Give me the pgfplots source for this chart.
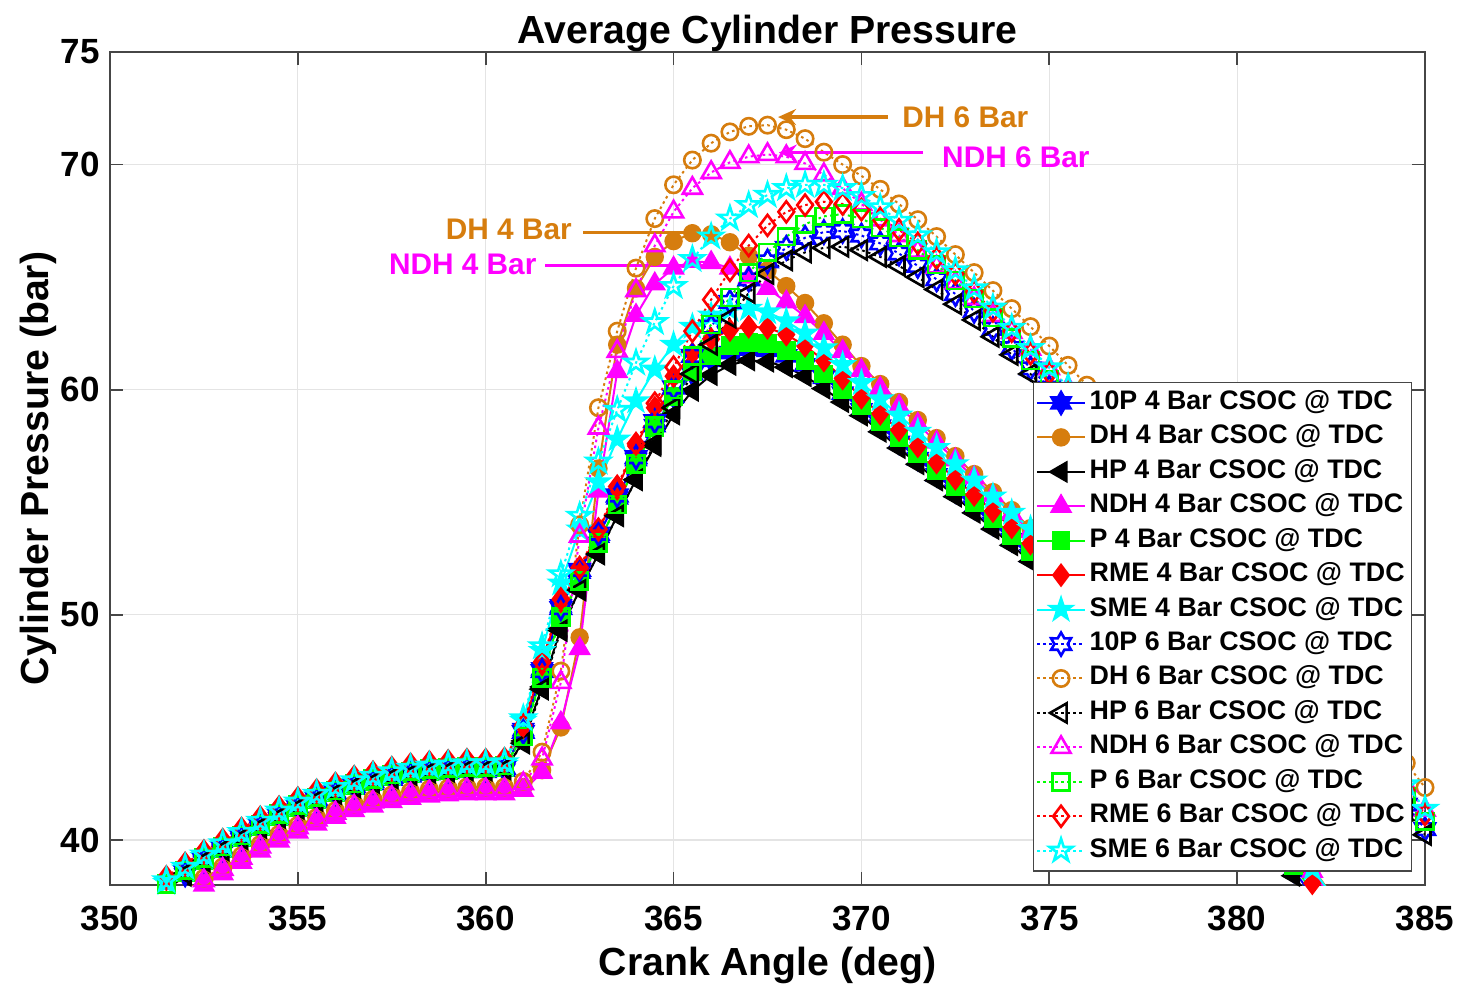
\documentclass[border=0pt]{standalone}
\usepackage{fontspec}
\setmainfont{Liberation Sans}
\usepackage{pgfplots}
\pgfplotsset{compat=1.18}
\usepackage{pgfplotstable}
\usetikzlibrary{arrows.meta,plotmarks}

\definecolor{mOrange}{RGB}{214,125,14}
\definecolor{mBlue}{RGB}{0,0,255}
\definecolor{mRed}{RGB}{255,0,0}
\definecolor{mGreen}{RGB}{0,255,0}
\definecolor{mCyan}{RGB}{0,255,255}
\definecolor{mMagenta}{RGB}{255,0,255}
\definecolor{boxgray}{RGB}{70,70,70}
\definecolor{gridgray}{RGB}{228,228,228}

% six- and five-pointed star marks (filled and outline variants)
\def\hexapath{%
  \pgfpathmoveto{\pgfpointpolar{90}{\pgfplotmarksize}}%
  \pgfpathlineto{\pgfpointpolar{120}{0.577\pgfplotmarksize}}%
  \pgfpathlineto{\pgfpointpolar{150}{\pgfplotmarksize}}%
  \pgfpathlineto{\pgfpointpolar{180}{0.577\pgfplotmarksize}}%
  \pgfpathlineto{\pgfpointpolar{210}{\pgfplotmarksize}}%
  \pgfpathlineto{\pgfpointpolar{240}{0.577\pgfplotmarksize}}%
  \pgfpathlineto{\pgfpointpolar{270}{\pgfplotmarksize}}%
  \pgfpathlineto{\pgfpointpolar{300}{0.577\pgfplotmarksize}}%
  \pgfpathlineto{\pgfpointpolar{330}{\pgfplotmarksize}}%
  \pgfpathlineto{\pgfpointpolar{0}{0.577\pgfplotmarksize}}%
  \pgfpathlineto{\pgfpointpolar{30}{\pgfplotmarksize}}%
  \pgfpathlineto{\pgfpointpolar{60}{0.577\pgfplotmarksize}}%
  \pgfpathclose}
\def\pentapath{%
  \pgfpathmoveto{\pgfpointpolar{90}{\pgfplotmarksize}}%
  \pgfpathlineto{\pgfpointpolar{126}{0.382\pgfplotmarksize}}%
  \pgfpathlineto{\pgfpointpolar{162}{\pgfplotmarksize}}%
  \pgfpathlineto{\pgfpointpolar{198}{0.382\pgfplotmarksize}}%
  \pgfpathlineto{\pgfpointpolar{234}{\pgfplotmarksize}}%
  \pgfpathlineto{\pgfpointpolar{270}{0.382\pgfplotmarksize}}%
  \pgfpathlineto{\pgfpointpolar{306}{\pgfplotmarksize}}%
  \pgfpathlineto{\pgfpointpolar{342}{0.382\pgfplotmarksize}}%
  \pgfpathlineto{\pgfpointpolar{18}{\pgfplotmarksize}}%
  \pgfpathlineto{\pgfpointpolar{54}{0.382\pgfplotmarksize}}%
  \pgfpathclose}
\pgfdeclareplotmark{hexagram*}{\hexapath\pgfusepathqfillstroke}
\pgfdeclareplotmark{hexagram}{\hexapath\pgfusepathqstroke}
\pgfdeclareplotmark{pentagram*}{\pentapath\pgfusepathqfillstroke}
\pgfdeclareplotmark{pentagram}{\pentapath\pgfusepathqstroke}

\pgfplotsset{
  s4/.style={solid, line width=1pt},
  s6/.style={line width=1pt, dash pattern=on 1.3pt off 1.7pt},
}

% Crank angle (deg) and cylinder pressure (bar)
% a=10P4 b=DH4 c=HP4 d=NDH4 e=P4 f=RME4 g=SME4 h=10P6 i=DH6 j=HP6 k=NDH6 l=P6 m=RME6 n=SME6
\pgfplotstableread{
x a b c d e f g h i j k l m n
351.5 37.85 37.00 37.80 36.85 37.95 38.25 38.10 37.95 37.15 37.90 37.05 38.05 38.35 38.20
352.0 38.45 37.60 38.40 37.45 38.55 38.85 38.70 38.55 37.75 38.50 37.65 38.65 38.95 38.80
352.5 39.00 38.15 38.95 38.00 39.10 39.40 39.25 39.10 38.30 39.05 38.20 39.20 39.50 39.35
353.0 39.50 38.65 39.45 38.50 39.60 39.90 39.75 39.60 38.80 39.55 38.70 39.70 40.00 39.85
353.5 40.00 39.15 39.95 39.00 40.10 40.40 40.25 40.10 39.30 40.05 39.20 40.20 40.50 40.35
354.0 40.50 39.65 40.45 39.50 40.60 40.90 40.75 40.60 39.80 40.55 39.70 40.70 41.00 40.85
354.5 40.95 40.10 40.90 39.95 41.05 41.35 41.20 41.05 40.25 41.00 40.15 41.15 41.45 41.30
355.0 41.35 40.50 41.30 40.35 41.45 41.75 41.60 41.45 40.65 41.40 40.55 41.55 41.85 41.70
355.5 41.70 40.85 41.65 40.70 41.80 42.10 41.95 41.80 41.00 41.75 40.90 41.90 42.20 42.05
356.0 42.00 41.15 41.95 41.00 42.10 42.40 42.25 42.10 41.30 42.05 41.20 42.20 42.50 42.35
356.5 42.30 41.45 42.25 41.30 42.40 42.70 42.55 42.40 41.60 42.35 41.50 42.50 42.80 42.65
357.0 42.50 41.65 42.45 41.50 42.60 42.90 42.75 42.60 41.80 42.55 41.70 42.70 43.00 42.85
357.5 42.70 41.85 42.65 41.70 42.80 43.10 42.95 42.80 42.00 42.75 41.90 42.90 43.20 43.05
358.0 42.85 42.00 42.80 41.85 42.95 43.25 43.10 42.95 42.15 42.90 42.05 43.05 43.35 43.20
358.5 42.95 42.10 42.90 41.95 43.05 43.35 43.20 43.05 42.25 43.00 42.15 43.15 43.45 43.30
359.0 43.00 42.15 42.95 42.00 43.10 43.40 43.25 43.10 42.30 43.05 42.20 43.20 43.50 43.35
359.5 43.05 42.20 43.00 42.05 43.15 43.45 43.30 43.15 42.35 43.10 42.25 43.25 43.55 43.40
360.0 43.05 42.20 43.00 42.05 43.15 43.45 43.30 43.15 42.35 43.10 42.25 43.25 43.55 43.40
360.5 43.10 42.20 43.05 42.05 43.20 43.50 43.35 43.20 42.35 43.15 42.25 43.30 43.60 43.45
361.0 44.90 42.35 44.40 42.20 44.70 45.00 45.30 44.80 42.60 44.30 42.50 44.60 45.10 45.40
361.5 47.60 43.10 46.80 43.00 47.30 47.80 48.40 47.50 43.90 46.70 43.60 47.20 47.90 48.60
362.0 50.40 45.00 49.40 45.20 50.00 50.60 51.40 50.30 47.50 49.30 47.00 49.90 50.70 51.80
362.5 51.90 49.00 51.10 48.50 51.50 52.00 53.80 52.00 54.00 51.10 53.50 51.50 52.10 54.40
363.0 53.50 56.50 52.70 55.50 53.20 53.70 55.90 53.60 59.20 52.70 58.30 53.20 53.80 56.80
363.5 55.20 62.00 54.40 60.80 54.90 55.60 57.80 55.30 62.60 54.40 61.70 54.90 55.70 59.10
364.0 56.90 64.50 56.00 63.30 56.70 57.50 59.50 57.00 65.40 56.00 64.40 56.70 57.60 61.20
364.5 58.40 65.90 57.50 64.70 58.30 59.20 60.90 58.60 67.60 57.60 66.40 58.40 59.40 63.00
365.0 59.70 66.60 58.90 65.40 59.70 60.60 62.00 60.10 69.10 59.20 67.90 60.00 61.00 64.60
365.5 60.70 66.95 59.95 65.70 60.80 61.60 62.80 61.50 70.20 60.70 68.95 61.50 62.60 65.80
366.0 61.30 66.90 60.65 65.65 61.50 62.25 63.30 62.80 70.95 62.00 69.65 62.90 64.00 66.80
366.5 61.65 66.55 61.10 65.40 61.95 62.65 63.55 63.90 71.45 63.20 70.10 64.10 65.30 67.60
367.0 61.80 65.95 61.30 65.00 62.10 62.80 63.60 64.90 71.70 64.30 70.35 65.20 66.40 68.20
367.5 61.75 65.30 61.25 64.50 62.05 62.75 63.45 65.70 71.75 65.15 70.45 66.10 67.30 68.65
368.0 61.50 64.60 61.00 63.90 61.75 62.45 63.05 66.30 71.55 65.75 70.35 66.80 67.90 68.95
368.5 61.10 63.85 60.60 63.25 61.30 61.95 62.50 66.75 71.15 66.10 70.05 67.35 68.20 69.10
369.0 60.55 62.95 60.05 62.50 60.70 61.30 61.85 67.00 70.55 66.30 69.55 67.70 68.35 69.10
369.5 59.85 62.00 59.45 61.70 60.00 60.50 61.10 67.05 70.00 66.35 68.95 67.80 68.25 68.95
370.0 59.10 61.05 58.85 60.85 59.30 59.65 60.30 66.85 69.50 66.20 68.25 67.60 68.00 68.60
370.5 58.38 60.25 58.13 60.06 58.58 58.93 59.58 66.50 68.90 65.90 67.55 67.20 67.60 68.10
371.0 57.66 59.45 57.41 59.26 57.86 58.21 58.86 66.05 68.25 65.50 66.85 66.75 67.10 67.50
371.5 56.94 58.65 56.69 58.47 57.14 57.49 58.14 65.50 67.55 65.00 66.15 66.20 66.50 66.85
372.0 56.22 57.85 55.97 57.67 56.42 56.77 57.42 64.90 66.80 64.45 65.45 65.55 65.85 66.10
372.5 55.50 57.05 55.25 56.88 55.70 56.05 56.70 64.25 66.00 63.80 64.75 64.85 65.15 65.30
373.0 54.78 56.25 54.53 56.09 54.98 55.33 55.98 63.50 65.20 63.10 64.05 64.05 64.35 64.50
373.5 54.06 55.45 53.81 55.29 54.26 54.61 55.26 62.70 64.40 62.35 63.30 63.20 63.50 63.65
374.0 53.34 54.65 53.09 54.50 53.54 53.89 54.54 61.85 63.60 61.55 62.55 62.30 62.60 62.75
374.5 52.62 53.85 52.37 53.70 52.82 53.17 53.82 60.95 62.80 60.70 61.80 61.30 61.60 61.85
375.0 51.74 52.97 51.49 52.82 51.94 52.29 52.94 60.09 61.94 59.84 60.94 60.44 60.74 60.99
375.5 50.84 52.07 50.59 51.92 51.04 51.39 52.04 59.23 61.08 58.98 60.08 59.58 59.88 60.13
376.0 49.92 51.15 49.67 51.00 50.12 50.47 51.12 58.35 60.20 58.10 59.20 58.70 59.00 59.25
376.5 48.98 50.21 48.73 50.06 49.18 49.53 50.18 57.46 59.31 57.21 58.31 57.81 58.11 58.36
377.0 48.03 49.26 47.78 49.11 48.23 48.58 49.23 56.55 58.40 56.30 57.40 56.90 57.20 57.45
377.5 47.06 48.29 46.81 48.14 47.26 47.61 48.26 55.64 57.49 55.39 56.49 55.99 56.29 56.54
378.0 46.06 47.30 45.82 47.15 46.27 46.62 47.27 54.71 56.56 54.46 55.56 55.06 55.36 55.61
378.5 45.06 46.29 44.81 46.14 45.26 45.61 46.26 53.77 55.62 53.52 54.62 54.12 54.42 54.67
379.0 44.04 45.27 43.79 45.12 44.24 44.59 45.24 52.82 54.67 52.57 53.67 53.17 53.47 53.72
379.5 43.00 44.23 42.75 44.08 43.20 43.55 44.20 51.86 53.71 51.61 52.71 52.21 52.51 52.76
380.0 41.94 43.17 41.69 43.02 42.14 42.49 43.14 50.88 52.73 50.63 51.73 51.23 51.53 51.78
380.5 40.86 42.09 40.61 41.94 41.06 41.41 42.06 49.89 51.74 49.64 50.74 50.24 50.54 50.79
381.0 39.77 41.00 39.52 40.85 39.97 40.32 40.97 48.89 50.74 48.64 49.74 49.24 49.54 49.79
381.5 38.66 39.89 38.41 39.74 38.86 39.21 39.86 47.88 49.73 47.63 48.73 48.23 48.53 48.78
382.0 37.53 38.76 37.28 38.61 37.73 38.08 38.73 46.86 48.71 46.61 47.71 47.21 47.51 47.76
382.5 36.38 37.61 36.13 37.46 36.58 36.93 37.58 45.83 47.68 45.58 46.68 46.18 46.48 46.73
383.0 nan nan nan nan nan nan nan 44.78 46.63 44.53 45.63 45.13 45.43 45.68
383.5 nan nan nan nan nan nan nan 43.72 45.57 43.47 44.57 44.07 44.37 44.62
384.0 nan nan nan nan nan nan nan 42.65 44.50 42.40 43.50 43.00 43.30 43.55
384.5 nan nan nan nan nan nan nan 41.57 43.42 41.32 42.42 41.92 42.22 42.47
385.0 nan nan nan nan nan nan nan 40.48 42.33 40.23 41.33 40.83 41.13 41.38
}\cyl

\begin{document}
\begin{tikzpicture}
\useasboundingbox (-55pt,-51pt) rectangle (675.5pt,442.5pt);
\begin{axis}[
  at={(0,0)}, anchor=south west,
  scale only axis, width=657.5pt, height=416.5pt,
  xmin=350, xmax=385, ymin=38, ymax=75,
  xtick={350,355,...,385}, ytick={40,50,60,70,75},
  grid=major, major grid style={gridgray, line width=0.6pt},
  axis line style={boxgray, line width=1pt},
  tick style={boxgray, line width=0.8pt},
  tick align=inside, major tick length=6.5pt,
  /pgf/number format/assume math mode=true,
  ticklabel style={font=\fontsize{17.5}{20}\selectfont\bfseries, inner sep=0pt},
  xticklabel style={anchor=base, yshift=-22.5pt},
  yticklabel style={anchor=east, xshift=-5pt},
  every axis title shift=0pt,
  title={Average Cylinder Pressure},
  title style={font=\fontsize{19.6}{22}\selectfont\bfseries, at={(axis description cs:0.5,1.01)}, anchor=base, inner sep=0pt},
  xlabel={Crank Angle (deg)},
  ylabel={Cylinder Pressure (bar)},
  label style={font=\fontsize{19.6}{22}\selectfont\bfseries, inner sep=0pt},
  xlabel style={at={(axis description cs:0.5,-0.1092)}, anchor=base},
  ylabel style={at={(axis description cs:-0.0471,0.5)}, anchor=base},
  legend cell align=left,
  legend style={at={(axis description cs:1,0)}, anchor=south east, xshift=-6.5pt, yshift=6.75pt,
    font=\fontsize{13.4}{15}\selectfont\bfseries, draw=boxgray, line width=0.6pt,
    fill=white, inner sep=1.5pt, row sep=0pt,
    nodes={inner sep=1.86pt, text height=10pt, text depth=3.5pt}},
  legend image code/.code={%
    \draw[mark repeat=2,mark phase=2] plot coordinates {(0cm,0cm) (0.42cm,0cm) (0.84cm,0cm)};},
]
% lines for the 4 bar labels run beneath the curves
\draw[mOrange, line width=1.75pt] (axis cs:362.59,66.98) -- (axis cs:365.7,66.98);
\draw[mMagenta, line width=1.75pt] (axis cs:361.58,65.51) -- (axis cs:365.9,65.51);

\addplot[color=mBlue, s4, mark=hexagram*, mark size=5.75pt] table[x=x,y=a]{\cyl};
\addplot[color=mOrange, s4, mark=*, mark size=4.1pt] table[x=x,y=b]{\cyl};
\addplot[color=black, s4, mark=triangle*, mark size=5.5pt, mark options={rotate=90}] table[x=x,y=c]{\cyl};
\addplot[color=mMagenta, s4, mark=triangle*, mark size=5.5pt] table[x=x,y=d]{\cyl};
\addplot[color=mGreen, s4, mark=square*, mark size=4.2pt] table[x=x,y=e]{\cyl};
\addplot[color=mRed, s4, mark=diamond*, mark size=5.25pt] table[x=x,y=f]{\cyl};
\addplot[color=mCyan, s4, mark=pentagram*, mark size=6pt] table[x=x,y=g]{\cyl};
\addplot[color=mBlue, s6, mark=hexagram, mark size=5.75pt, mark options={solid, line width=1.3pt}] table[x=x,y=h]{\cyl};
\addplot[color=mOrange, s6, mark=o, mark size=4.1pt, mark options={solid, line width=1.3pt}] table[x=x,y=i]{\cyl};
\addplot[color=black, s6, mark=triangle, mark size=5.5pt, mark options={solid, line width=1.3pt, rotate=90}] table[x=x,y=j]{\cyl};
\addplot[color=mMagenta, s6, mark=triangle, mark size=5.5pt, mark options={solid, line width=1.3pt}] table[x=x,y=k]{\cyl};
\addplot[color=mGreen, s6, mark=square, mark size=4.2pt, mark options={solid, line width=1.3pt}] table[x=x,y=l]{\cyl};
\addplot[color=mRed, s6, mark=diamond, mark size=5.25pt, mark options={solid, line width=1.3pt}] table[x=x,y=m]{\cyl};
\addplot[color=mCyan, s6, mark=pentagram, mark size=6pt, mark options={solid, line width=1.3pt}] table[x=x,y=n]{\cyl};

\legend{10P 4 Bar CSOC @ TDC, DH 4 Bar CSOC @ TDC, HP 4 Bar CSOC @ TDC, NDH 4 Bar CSOC @ TDC,
  P 4 Bar CSOC @ TDC, RME 4 Bar CSOC @ TDC, SME 4 Bar CSOC @ TDC,
  10P 6 Bar CSOC @ TDC, DH 6 Bar CSOC @ TDC, HP 6 Bar CSOC @ TDC, NDH 6 Bar CSOC @ TDC,
  P 6 Bar CSOC @ TDC, RME 6 Bar CSOC @ TDC, SME 6 Bar CSOC @ TDC}

% peak labels
\draw[mOrange, line width=1.75pt, -{Stealth[length=9pt,width=8pt,inset=3pt]}] (axis cs:370.7,72.11) -- (axis cs:367.78,72.11);
\draw[mMagenta, line width=1.75pt, -{Stealth[length=9pt,width=8pt,inset=3pt]}] (axis cs:371.64,70.53) -- (axis cs:367.8,70.53);
\node[mOrange, anchor=west, inner sep=0pt, font=\fontsize{14.9}{17}\selectfont\bfseries] at (axis cs:371.08,72.1) {DH 6 Bar};
\node[mMagenta, anchor=west, inner sep=0pt, font=\fontsize{14.9}{17}\selectfont\bfseries] at (axis cs:372.14,70.31) {NDH 6 Bar};
\node[mOrange, anchor=east, inner sep=0pt, font=\fontsize{14.9}{17}\selectfont\bfseries] at (axis cs:362.3,67.11) {DH 4 Bar};
\node[mMagenta, anchor=east, inner sep=0pt, font=\fontsize{14.9}{17}\selectfont\bfseries] at (axis cs:361.36,65.56) {NDH 4 Bar};
\end{axis}
\end{tikzpicture}
\end{document}
